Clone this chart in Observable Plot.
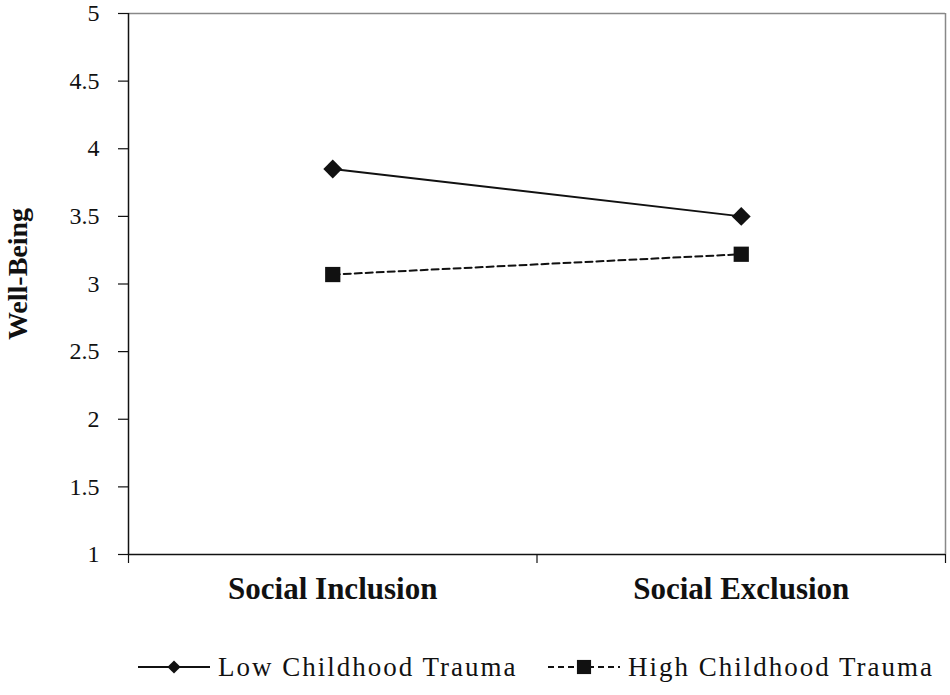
<!DOCTYPE html>
<html><head><meta charset="utf-8">
<script src="https://cdn.jsdelivr.net/npm/d3@7"></script>
<script src="https://cdn.jsdelivr.net/npm/@observablehq/plot@0.6"></script>
<style>
body{margin:0;background:#fff;font-family:"Liberation Serif","Times New Roman",serif;}
#wrap{position:relative;width:950px;height:695px;overflow:hidden;}
#chart svg text{font-family:"Liberation Serif","Times New Roman",serif;}
#legend{position:absolute;left:0;top:648px;width:950px;height:38px;}
.item{position:absolute;top:0;height:38px;display:flex;align-items:center;font-size:27px;letter-spacing:2px;color:#111;white-space:nowrap;}
.item svg{display:block;margin-right:8px;}
</style></head><body>
<div id="wrap"><div id="chart"></div><div id="legend"></div></div>
<script>
const conditions = ["Social Inclusion", "Social Exclusion"];
const seriesNames = ["Low Childhood Trauma", "High Childhood Trauma"];
const lowTrauma = [3.85, 3.50];
const highTrauma = [3.07, 3.22];
const yTicks = [1, 1.5, 2, 2.5, 3, 3.5, 4, 4.5, 5];
const conditionPositions = [0.5, 1.5];
const boundaryTicks = [0, 1, 2];

const serif = "Liberation Serif";
const lowData = conditions.map((c, i) => ({series: seriesNames[0], condition: c, pos: conditionPositions[i], value: lowTrauma[i]}));
const highData = conditions.map((c, i) => ({series: seriesNames[1], condition: c, pos: conditionPositions[i], value: highTrauma[i]}));

const chart = Plot.plot({
  width: 950,
  height: 620,
  marginLeft: 128,
  marginRight: 5,
  marginTop: 13,
  marginBottom: 66,
  style: {fontFamily: serif, background: "#fff", color: "#111"},
  x: {domain: [0, 2]},
  y: {domain: [1, 5]},
  marks: [
    Plot.ruleY([5], {stroke: "#888", strokeWidth: 1.5}),
    Plot.ruleX([2], {stroke: "#888", strokeWidth: 1.5}),
    Plot.ruleX([0], {stroke: "#111", strokeWidth: 1.5}),
    Plot.ruleY([1], {stroke: "#111", strokeWidth: 1.5}),
    Plot.axisY(yTicks, {tickSize: 10, tickPadding: 19, fontSize: 24, fontFamily: serif, label: null, stroke: "#111", strokeWidth: 1.2,
      tickFormat: (d) => String(d)}),
    Plot.axisX(boundaryTicks, {tickSize: 9, tickFormat: () => "", label: null, stroke: "#111", strokeWidth: 1.2}),
    Plot.axisX(conditionPositions, {tickSize: 0, tickPadding: 22, fontSize: 31, fontWeight: "bold", fontFamily: serif, label: null,
      tickFormat: (d) => conditions[conditionPositions.indexOf(d)]}),
    Plot.text(["Well-Being"], {frameAnchor: "left", dx: -110, dy: -10, rotate: -90, fontSize: 28, fontWeight: "bold", fontFamily: serif, textAnchor: "middle", lineAnchor: "middle", fill: "#111"}),
    Plot.line(lowData, {x: "pos", y: "value", stroke: "#111", strokeWidth: 2}),
    Plot.line(highData, {x: "pos", y: "value", stroke: "#111", strokeWidth: 2, strokeDasharray: "7,4"}),
    Plot.dot(lowData, {x: "pos", y: "value", symbol: "diamond2", r: 8.5, fill: "#111", stroke: "none"}),
    Plot.dot(highData, {x: "pos", y: "value", symbol: "square", r: 8.6, fill: "#111", stroke: "none"})
  ]
});
document.getElementById("chart").appendChild(chart);

const legend = document.getElementById("legend");
const swatches = [
  {left: 138, dash: null, symbol: d3.symbolDiamond2, size: 110},
  {left: 548, dash: "6,4", symbol: d3.symbolSquare, size: 200}
];
seriesNames.forEach((name, i) => {
  const s = swatches[i];
  const item = document.createElement("div");
  item.className = "item";
  item.style.left = s.left + "px";
  const path = d3.symbol(s.symbol, s.size)();
  item.innerHTML = `<svg width="72" height="20"><line x1="0" x2="72" y1="10" y2="10" stroke="#111" stroke-width="2" ${s.dash ? `stroke-dasharray="${s.dash}"` : ""}/><path d="${path}" transform="translate(36,10)" fill="#111"/></svg><span>${name}</span>`;
  legend.appendChild(item);
});
</script>
</body></html>
